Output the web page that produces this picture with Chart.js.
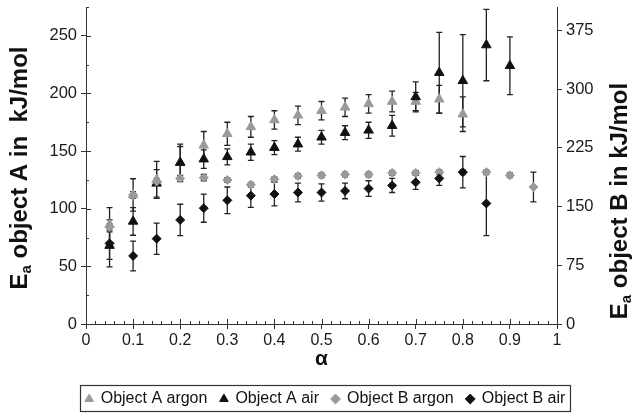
<!DOCTYPE html>
<html>
<head>
<meta charset="utf-8">
<script src="https://cdn.jsdelivr.net/npm/chart.js@4.4.1/dist/chart.umd.min.js"></script>
<style>
  html, body { margin: 0; padding: 0; background: #fff; }
  #wrap { width: 633px; height: 413px; }
</style>
</head>
<body>
<div id="wrap"><canvas id="myChart" width="633" height="413"></canvas></div>
<script>
// degree of conversion
const alpha = [0.05, 0.1, 0.15, 0.2, 0.25, 0.3, 0.35, 0.4, 0.45, 0.5,
               0.55, 0.6, 0.65, 0.7, 0.75, 0.8, 0.85, 0.9, 0.95];

// object A (left axis), kJ/mol
const objAArgon    = [86, 112, 125, 140, 155, 165, 171, 177, 181, 185, 188, 191, 193, 193, 195, 182, null, null, null];
const objAArgonErr = [15, 14, 16, 14, 12, 10, 9, 8, 8, 8, 8, 8, 9, 8, 12, 15, null, null, null];
const objAAir      = [68, 89, 122, 140, 143, 145, 149, 153, 156, 162, 166, 168, 172, 197, 218, 211, 242, 224, null];
const objAAirErr   = [12, 12, 12, 16, 8, 7, 7, 6, 6, 6, 6, 7, 9, 13, 35, 40, 31, 25, null];

// object B (right axis), kJ/mol
const objBArgon    = [124, 165, 182, 186, 187, 184, 178, 185, 189, 190, 191, 191, 193, 193, 194, 194, 194, 190, 175];
const objBArgonErr = [4, 4, 4, 4, 4, 3, 3, 3, 3, 3, 3, 3, 3, 3, 3, 3, 3, 3, 19];
const objBAir      = [103, 87, 109, 133, 148, 158, 164, 166, 168, 168, 170, 173, 177, 181, 186, 194, 154, null, null];
const objBAirErr   = [30, 19, 20, 20, 18, 17, 15, 15, 12, 11, 10, 10, 9, 9, 9, 20, 41, null, null];

const xTicks = [0, 0.1, 0.2, 0.3, 0.4, 0.5, 0.6, 0.7, 0.8, 0.9, 1];
const leftTicks = [0, 50, 100, 150, 200, 250];
const rightTicks = [0, 75, 150, 225, 300, 375];

const FONT = 'Arial, "Liberation Sans", Helvetica, sans-serif';
const AXIS = '#333';
const GRAY = '#9a9a9a';
const BLACK = '#111';

function points(vals, errs) {
  return alpha.map((a, i) => ({ x: a, y: vals[i], err: errs[i] })).filter(p => p.y !== null);
}

// error bars drawn through the scales
const errorBars = {
  id: 'errorBars',
  beforeDatasetsDraw(chart) {
    const ctx = chart.ctx;
    ctx.save();
    ctx.strokeStyle = '#222';
    ctx.lineWidth = 1.3;
    chart.data.datasets.forEach((ds, i) => {
      const meta = chart.getDatasetMeta(i);
      const ys = chart.scales[ds.yAxisID];
      ds.data.forEach((p, j) => {
        if (!p.err) return;
        const px = meta.data[j].x;
        const top = ys.getPixelForValue(p.y + p.err);
        const bot = ys.getPixelForValue(p.y - p.err);
        ctx.beginPath();
        ctx.moveTo(px, top); ctx.lineTo(px, bot);
        ctx.moveTo(px - 3, top); ctx.lineTo(px + 3, top);
        ctx.moveTo(px - 3, bot); ctx.lineTo(px + 3, bot);
        ctx.stroke();
      });
    });
    ctx.restore();
  }
};

// inner halves of major ticks and minor ticks
const innerTicks = {
  id: 'innerTicks',
  afterDraw(chart) {
    const ctx = chart.ctx;
    const a = chart.chartArea;
    const x = chart.scales.x, yA = chart.scales.yA;
    ctx.save();
    ctx.strokeStyle = AXIS;
    ctx.lineWidth = 1;
    ctx.beginPath();
    for (let k = 0; k <= 50; k++) {
      const px = Math.round(x.getPixelForValue(k / 50)) + 0.5;
      const len = k % 5 === 0 ? 5 : 3;
      ctx.moveTo(px, a.bottom); ctx.lineTo(px, a.bottom - len);
    }
    for (let k = 0; k <= 11; k++) {
      const py = Math.round(yA.getPixelForValue(k * 25)) + 0.5;
      const len = k % 2 === 0 ? 5 : 3;
      ctx.moveTo(a.left, py); ctx.lineTo(a.left + len, py);
    }
    ctx.stroke();
    ctx.restore();
  }
};

// rotated y titles with subscript a; bx = baseline x on screen
function drawYTitle(ctx, bx, cy, letter, gap) {
  const big = 'bold 24px ' + FONT;
  const small = 'bold 15px ' + FONT;
  const rest = ' object ' + letter + ' in' + gap + 'kJ/mol';
  ctx.save();
  ctx.translate(bx, cy);
  ctx.rotate(-Math.PI / 2);
  ctx.fillStyle = BLACK;
  ctx.textBaseline = 'alphabetic';
  ctx.font = big;
  const wE = ctx.measureText('E').width;
  const wR = ctx.measureText(rest).width;
  ctx.font = small;
  const wa = ctx.measureText('a').width;
  const sx = -(wE + wa + wR) / 2;
  ctx.font = big;
  ctx.fillText('E', sx, 0);
  ctx.font = small;
  ctx.fillText('a', sx + wE, 4);
  ctx.font = big;
  ctx.fillText(rest, sx + wE + wa, 0);
  ctx.restore();
}

const axisTitles = {
  id: 'axisTitles',
  afterDraw(chart) {
    drawYTitle(chart.ctx, 27, 168, 'A', '  ');
    drawYTitle(chart.ctx, 627, 201, 'B', ' ');
  }
};

const LEGEND_SHIFT = 9;
const legendBox = {
  id: 'legendBox',
  afterLayout(chart) {
    const lg = chart.legend;
    lg.left += LEGEND_SHIFT;
    lg.right += LEGEND_SHIFT;
    lg.legendHitBoxes.forEach(h => { h.left += LEGEND_SHIFT; });
  },
  afterDraw(chart) {
    const hb = chart.legend.legendHitBoxes;
    if (!hb || !hb.length) return;
    const l = Math.min(...hb.map(h => h.left)) - 6;
    const r = Math.max(...hb.map(h => h.left + h.width)) + 4;
    const t = Math.min(...hb.map(h => h.top)) - 6;
    const b = Math.max(...hb.map(h => h.top + h.height)) + 6;
    const ctx = chart.ctx;
    ctx.save();
    ctx.strokeStyle = '#333';
    ctx.lineWidth = 1.2;
    ctx.strokeRect(Math.round(l) + 0.5, Math.round(t) + 0.5, Math.round(r - l), Math.min(Math.round(b - t), 411 - Math.round(t)));
    ctx.restore();
  }
};

Chart.defaults.font.family = FONT;
Chart.defaults.color = '#1a1a1a';

const ctx = document.getElementById('myChart').getContext('2d');
new Chart(ctx, {
  type: 'scatter',
  data: {
    datasets: [
      {
        label: 'Object A argon',
        data: points(objAArgon, objAArgonErr),
        yAxisID: 'yA',
        pointStyle: 'triangle',
        pointRadius: 5.5,
        backgroundColor: GRAY,
        borderColor: GRAY,
        order: 4
      },
      {
        label: 'Object A air',
        data: points(objAAir, objAAirErr),
        yAxisID: 'yA',
        pointStyle: 'triangle',
        pointRadius: 5.5,
        backgroundColor: BLACK,
        borderColor: BLACK,
        order: 3
      },
      {
        label: 'Object B argon',
        data: points(objBArgon, objBArgonErr),
        yAxisID: 'yB',
        pointStyle: 'rectRot',
        pointRadius: 4.5,
        backgroundColor: GRAY,
        borderColor: GRAY,
        order: 2
      },
      {
        label: 'Object B air',
        data: points(objBAir, objBAirErr),
        yAxisID: 'yB',
        pointStyle: 'rectRot',
        pointRadius: 4.5,
        backgroundColor: BLACK,
        borderColor: BLACK,
        order: 1
      }
    ]
  },
  options: {
    responsive: false,
    animation: false,
    layout: { padding: { top: 7, left: 0, right: 0, bottom: -4 } },
    plugins: {
      tooltip: { enabled: false },
      legend: {
        position: 'bottom',
        labels: {
          usePointStyle: true,
          boxWidth: 7,
          boxHeight: 7,
          padding: 13,
          color: BLACK,
          font: { size: 16 },
          sort: (a, b) => a.datasetIndex - b.datasetIndex
        }
      }
    },
    scales: {
      x: {
        type: 'linear',
        position: 'bottom',
        min: 0,
        max: 1,
        afterBuildTicks: s => { s.ticks = xTicks.map(v => ({ value: v })); },
        afterFit: s => { s.height = 54; },
        ticks: {
          font: { size: 16 },
          padding: 2,
          maxRotation: 0,
          autoSkip: false,
          callback: v => String(+v.toFixed(1))
        },
        grid: { drawOnChartArea: false, drawTicks: true, tickLength: 5, color: AXIS },
        border: { display: true, color: AXIS, width: 1 },
        title: { display: true, text: 'α', font: { size: 21, weight: 'bold' }, color: BLACK, padding: { top: 0, bottom: 6 } }
      },
      yA: {
        type: 'linear',
        position: 'left',
        min: 0,
        max: 275,
        afterBuildTicks: s => { s.ticks = leftTicks.map(v => ({ value: v })); },
        afterFit: s => { s.width = 86; s.paddingTop = 0; s.paddingBottom = 0; },
        ticks: { font: { size: 16.5 }, padding: 4 },
        grid: { drawOnChartArea: false, drawTicks: true, tickLength: 5, color: AXIS },
        border: { display: true, color: AXIS, width: 1 }
      },
      yB: {
        type: 'linear',
        position: 'right',
        min: 0,
        max: 405,
        afterBuildTicks: s => { s.ticks = rightTicks.map(v => ({ value: v })); },
        afterFit: s => { s.width = 76; s.paddingTop = 0; s.paddingBottom = 0; },
        ticks: { font: { size: 16.5 }, padding: 4 },
        grid: { drawOnChartArea: false, drawTicks: true, tickLength: 5, color: AXIS },
        border: { display: true, color: AXIS, width: 1 }
      }
    }
  },
  plugins: [errorBars, innerTicks, axisTitles, legendBox]
});
</script>
</body>
</html>
